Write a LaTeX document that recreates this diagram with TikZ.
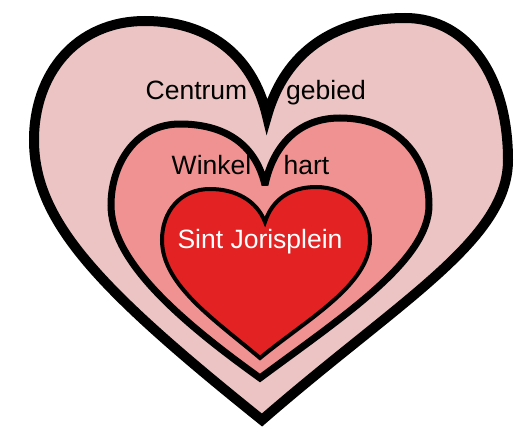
\documentclass[tikz,border=0pt]{standalone}
\usepackage{fontspec}
\setmainfont{Liberation Sans}
\definecolor{outerpink}{RGB}{236,196,196}
\definecolor{midpink}{RGB}{241,146,146}
\definecolor{innerred}{RGB}{227,35,35}
\tikzset{
  heartline/.style={draw=black, line join=miter, miter limit=4},
  outerheart/.style={heartline, fill=outerpink, line width=10pt},
  midheart/.style={heartline, fill=midpink, line width=7pt},
  innerheart/.style={heartline, fill=innerred, line width=4pt},
  lbl/.style={font=\fontsize{26.5}{26.5}\selectfont, anchor=base, inner sep=0pt}
}
\begin{document}
\begin{tikzpicture}[x=1pt,y=-1pt]
\useasboundingbox[fill=white] (0,0) rectangle (531,431);
% outer heart
\path[outerheart] (267,116) .. controls (252,52) and (205,21) .. (145,21)
  .. controls (75,21) and (34,75) .. (34,140)
  .. controls (34,222) and (100,290) .. (262,420)
  .. controls (400,300) and (508,240) .. (508,160)
  .. controls (508,80) and (470,18) .. (405,18)
  .. controls (335,18) and (285,52) .. cycle;
% middle heart
\path[midheart] (265,185) .. controls (255,142) and (222,124) .. (180,124)
  .. controls (135,124) and (111,165) .. (111,205)
  .. controls (111,258) and (172,315) .. (260,378)
  .. controls (345,315) and (429,260) .. (429,205)
  .. controls (429,155) and (395,118) .. (340,118)
  .. controls (295,118) and (272,150) .. cycle;
% inner heart
\path[innerheart] (265,222) .. controls (257,201) and (236,189) .. (210,189)
  .. controls (180,189) and (162,212) .. (162,240)
  .. controls (162,285) and (215,320) .. (260,358)
  .. controls (306,320) and (370,285) .. (370,240)
  .. controls (370,208) and (346,187) .. (316,187)
  .. controls (290,187) and (272,200) .. cycle;
% labels
\node[lbl] (centrum) at (196.5,99) {Centrum};
\node[lbl] (gebied) at (326,99) {gebied};
\node[lbl] (winkel) at (211.5,174) {Winkel};
\node[lbl] (hart) at (306.5,174) {hart};
\node[lbl, text=white] (sint) at (260,248) {Sint Jorisplein};
\end{tikzpicture}
\end{document}
